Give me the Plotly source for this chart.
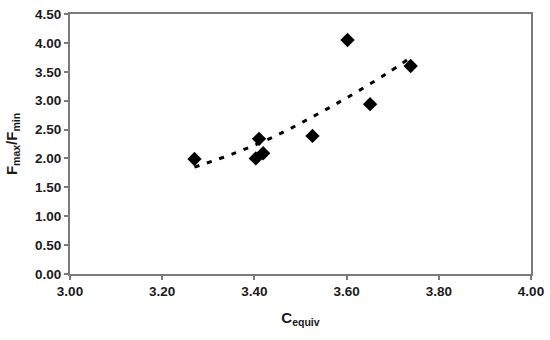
import plotly.graph_objects as go

# measured points
c_equiv = [3.270, 3.410, 3.403, 3.419, 3.526, 3.602, 3.651, 3.739]
f_ratio = [1.99, 2.34, 2.00, 2.09, 2.39, 4.05, 2.94, 3.60]

# trend line
trend_x = [3.270, 3.360, 3.443, 3.526, 3.607, 3.687, 3.736]
trend_y = [1.85, 2.10, 2.38, 2.72, 3.08, 3.47, 3.73]

x_ticks = [3.0, 3.2, 3.4, 3.6, 3.8, 4.0]
y_ticks = [0, 0.5, 1.0, 1.5, 2.0, 2.5, 3.0, 3.5, 4.0, 4.5]

fig = go.Figure()

fig.add_trace(go.Scatter(
    x=trend_x, y=trend_y,
    mode='lines',
    line=dict(color='black', width=3, dash='5px,8px', shape='spline'),
    showlegend=False
))

fig.add_trace(go.Scatter(
    x=c_equiv, y=f_ratio,
    mode='markers',
    marker=dict(symbol='diamond', size=11, color='black'),
    showlegend=False
))

font = dict(family='Liberation Sans, Arial, sans-serif', size=13.5, color='#1a1a1a')

fig.update_layout(
    width=550, height=340,
    margin=dict(l=70, r=19, t=14, b=66),
    paper_bgcolor='white',
    plot_bgcolor='white',
    font=font,
    xaxis=dict(
        range=[3.0, 4.0],
        automargin=False,
        tickvals=x_ticks,
        ticktext=[f'<b>{v:.2f}</b>' for v in x_ticks],
        showgrid=False, zeroline=False,
        showline=True, linecolor='#7a7a7a', linewidth=2, mirror=True,
        ticks='outside', ticklen=4, tickcolor='#7a7a7a', tickwidth=1.5,
        ticklabeloverflow='allow',
        title=dict(text='<b>C<sub>equiv</sub></b>', font=dict(size=15), standoff=14),
    ),
    yaxis=dict(
        range=[0, 4.5],
        automargin=False,
        tickvals=y_ticks,
        ticktext=[f'<b>{v:.2f}</b>' for v in y_ticks],
        showgrid=False, zeroline=False,
        showline=True, linecolor='#7a7a7a', linewidth=2, mirror=True,
        ticks='outside', ticklen=4, tickcolor='#7a7a7a', tickwidth=1.5,
        ticklabeloverflow='allow',
        title=dict(text='<b>F<sub>max</sub>/F<sub>min</sub></b>', font=dict(size=15), standoff=14),
    ),
)

# drop the default 8px body margin so the figure sits at the page corner
fig.write_html("out.html", config={'displayModeBar': False},
               post_script="document.body.style.margin='0';")
